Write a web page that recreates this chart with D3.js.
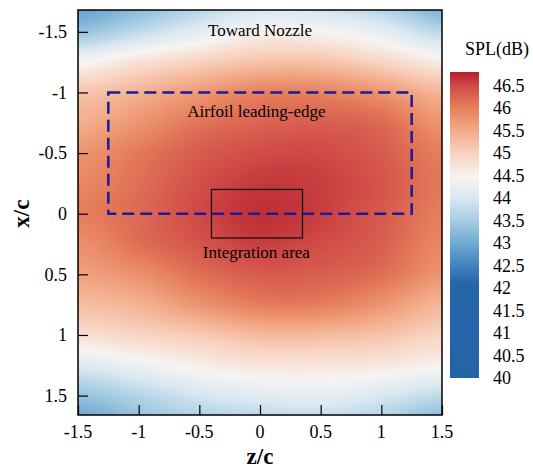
<!DOCTYPE html>
<html lang="en">
<head>
    <meta charset="UTF-8">
    <title>SPL map</title>
    <script src="https://d3js.org/d3.v7.min.js"></script>
    <style>
        body { margin: 0; background: white; }
        svg text { font-family: "Liberation Serif", "DejaVu Serif", serif; fill: black; }
        .tick-label { font-size: 18px; }
        .axis-title { font-size: 23px; font-weight: bold; }
        .note { font-size: 17px; text-anchor: middle; }
    </style>
</head>
<body>
    <div id="chart"></div>
    <script>
        // grid of SPL (dB): columns are z/c, rows are x/c
        const zCols = [-1.5, -1, -0.5, 0, 0.5, 1, 1.5];
        const xRows = [-1.75, -1.5, -1.25, -1, -0.75, -0.5, -0.25, 0, 0.25, 0.5, 0.75, 1, 1.25, 1.5, 1.75];
        const spl = [
            [42.8, 43.15, 43.55, 43.85, 43.8, 43.5, 43.0],
            [43.35, 43.75, 44.15, 44.5, 44.45, 44.2, 43.7],
            [44.4, 44.75, 45.0, 45.2, 45.2, 44.95, 44.6],
            [45.15, 45.4, 45.7, 45.95, 45.95, 45.75, 45.35],
            [45.45, 45.75, 46.1, 46.25, 46.3, 46.2, 45.75],
            [45.75, 46.05, 46.33, 46.48, 46.5, 46.33, 46.0],
            [45.9, 46.15, 46.45, 46.62, 46.58, 46.4, 46.05],
            [46.0, 46.2, 46.5, 46.68, 46.58, 46.35, 46.0],
            [45.8, 46.15, 46.4, 46.58, 46.48, 46.3, 45.9],
            [45.6, 45.8, 46.15, 46.33, 46.3, 46.15, 45.75],
            [45.25, 45.4, 45.75, 46.0, 46.0, 45.75, 45.35],
            [44.8, 44.95, 45.1, 45.3, 45.3, 45.2, 44.95],
            [44.05, 44.3, 44.55, 44.7, 44.7, 44.65, 44.5],
            [43.35, 43.65, 43.95, 44.1, 44.2, 44.0, 43.75],
            [42.85, 43.25, 43.5, 43.6, 43.65, 43.55, 43.1]
        ];

        const axisTicks = [-1.5, -1, -0.5, 0, 0.5, 1, 1.5];
        const cbTicks = [40, 40.5, 41, 41.5, 42, 42.5, 43, 43.5, 44, 44.5, 45, 45.5, 46, 46.5];

        // colour map stops (dB -> colour)
        const cmapValues = [40, 42.1, 42.5, 43, 43.5, 44, 44.45, 45, 45.5, 46, 46.5, 46.8];
        const cmapColors = ["#2563a9", "#2565aa", "#4283bf", "#71aad2", "#a6cce3", "#dae8f1",
                            "#f6f4f2", "#f8d2bf", "#f3aa88", "#e67f5c", "#d04a47", "#b51f2e"];

        const W = 533, H = 471;
        const plot = { left: 78, right: 442, top: 10, bottom: 415 };

        const svg = d3.select("#chart").append("svg")
            .attr("width", W)
            .attr("height", H)
            .attr("font-family", "'Liberation Serif', 'DejaVu Serif', serif");

        const x = d3.scaleLinear().domain([-1.5, 1.5]).range([plot.left, plot.right]);
        const y = d3.scaleLinear().domain([-1.68, 1.66]).range([plot.top, plot.bottom]);

        const color = d3.scaleLinear()
            .domain(cmapValues)
            .range(cmapColors)
            .interpolate(d3.interpolateRgb)
            .clamp(true);

        // smooth lookup in the grid (Catmull-Rom)
        function cr(p0, p1, p2, p3, t) {
            return 0.5 * (2 * p1 + (-p0 + p2) * t + (2 * p0 - 5 * p1 + 4 * p2 - p3) * t * t
                + (-p0 + 3 * p1 - 3 * p2 + p3) * t * t * t);
        }
        function cell(r, c) {
            r = Math.max(0, Math.min(xRows.length - 1, r));
            c = Math.max(0, Math.min(zCols.length - 1, c));
            return spl[r][c];
        }
        function splAt(zv, xv) {
            const fc = (zv - zCols[0]) / (zCols[1] - zCols[0]);
            const fr = (xv - xRows[0]) / (xRows[1] - xRows[0]);
            const c = Math.floor(fc), r = Math.floor(fr);
            const tc = fc - c, tr = fr - r;
            const rowVals = [];
            for (let k = -1; k <= 2; k++) {
                rowVals.push(cr(cell(r + k, c - 1), cell(r + k, c), cell(r + k, c + 1), cell(r + k, c + 2), tc));
            }
            return cr(rowVals[0], rowVals[1], rowVals[2], rowVals[3], tr);
        }

        // heatmap
        const pw = plot.right - plot.left, ph = plot.bottom - plot.top;
        const canvas = document.createElement("canvas");
        canvas.width = pw;
        canvas.height = ph;
        const ctx = canvas.getContext("2d");
        const img = ctx.createImageData(pw, ph);
        for (let j = 0; j < ph; j++) {
            const xv = y.invert(plot.top + j + 0.5);
            for (let i = 0; i < pw; i++) {
                const zv = x.invert(plot.left + i + 0.5);
                const c = d3.rgb(color(splAt(zv, xv)));
                const k = (j * pw + i) * 4;
                img.data[k] = c.r;
                img.data[k + 1] = c.g;
                img.data[k + 2] = c.b;
                img.data[k + 3] = 255;
            }
        }
        ctx.putImageData(img, 0, 0);

        svg.append("image")
            .attr("x", plot.left)
            .attr("y", plot.top)
            .attr("width", pw)
            .attr("height", ph)
            .attr("preserveAspectRatio", "none")
            .attr("href", canvas.toDataURL());

        // dashed box: airfoil leading-edge region
        svg.append("rect")
            .attr("x", x(-1.25))
            .attr("y", y(-1))
            .attr("width", x(1.25) - x(-1.25))
            .attr("height", y(0) - y(-1))
            .attr("fill", "none")
            .attr("stroke", "#1d1a94")
            .attr("stroke-width", 2.5)
            .attr("stroke-dasharray", "12,6");

        // integration area
        svg.append("rect")
            .attr("x", x(-0.4))
            .attr("y", y(-0.2))
            .attr("width", x(0.35) - x(-0.4))
            .attr("height", y(0.2) - y(-0.2))
            .attr("fill", "none")
            .attr("stroke", "#111")
            .attr("stroke-width", 1.3);

        svg.append("text").attr("class", "note")
            .attr("x", x(0)).attr("y", 36).text("Toward Nozzle");
        svg.append("text").attr("class", "note")
            .attr("x", x(-0.03)).attr("y", 117).text("Airfoil leading-edge");
        svg.append("text").attr("class", "note")
            .attr("x", x(-0.03)).attr("y", 258).text("Integration area");

        // axes (ticks point inward)
        const minor = d3.range(-16, 17).map(d => d / 10);

        const gx = svg.append("g").attr("transform", `translate(0,${plot.bottom})`);
        gx.call(d3.axisBottom(x).tickValues(minor.filter(d => d >= -1.5 && d <= 1.5))
            .tickSize(-5).tickFormat(""));
        gx.call(d3.axisBottom(x).tickValues(axisTicks).tickSize(-10).tickFormat(""));
        gx.selectAll("path").remove();
        gx.selectAll("line").attr("stroke", "black").attr("stroke-width", 1.2);

        const gy = svg.append("g").attr("transform", `translate(${plot.left},0)`);
        gy.call(d3.axisLeft(y).tickValues(minor).tickSize(-5).tickFormat(""));
        gy.call(d3.axisLeft(y).tickValues(axisTicks).tickSize(-10).tickFormat(""));
        gy.selectAll("path").remove();
        gy.selectAll("line").attr("stroke", "black").attr("stroke-width", 1.2);

        svg.append("g").selectAll("text")
            .data(axisTicks)
            .join("text")
            .attr("class", "tick-label")
            .attr("x", d => x(d))
            .attr("y", plot.bottom + 23)
            .attr("text-anchor", "middle")
            .text(d => String(d));

        svg.append("g").selectAll("text")
            .data(axisTicks)
            .join("text")
            .attr("class", "tick-label")
            .attr("x", plot.left - 11)
            .attr("y", d => y(d))
            .attr("dy", "0.35em")
            .attr("text-anchor", "end")
            .text(d => String(d));

        // frame
        svg.append("rect")
            .attr("x", plot.left)
            .attr("y", plot.top)
            .attr("width", pw)
            .attr("height", ph)
            .attr("fill", "none")
            .attr("stroke", "black")
            .attr("stroke-width", 1.5);

        svg.append("text")
            .attr("class", "axis-title")
            .attr("x", x(0))
            .attr("y", 464)
            .attr("text-anchor", "middle")
            .text("z/c");

        svg.append("text")
            .attr("class", "axis-title")
            .attr("transform", `translate(29,${y(0)}) rotate(-90)`)
            .attr("text-anchor", "middle")
            .text("x/c");

        // colour bar
        const cb = { left: 450, width: 29, top: 72, bottom: 378 };
        const cy = d3.scaleLinear().domain([40, 46.8]).range([cb.bottom, cb.top]);

        const grad = svg.append("defs").append("linearGradient")
            .attr("id", "cbgrad")
            .attr("x1", "0%").attr("y1", "100%")
            .attr("x2", "0%").attr("y2", "0%");
        grad.selectAll("stop")
            .data(cmapValues)
            .join("stop")
            .attr("offset", d => ((d - 40) / 6.8 * 100) + "%")
            .attr("stop-color", d => color(d));

        svg.append("rect")
            .attr("x", cb.left)
            .attr("y", cb.top)
            .attr("width", cb.width)
            .attr("height", cb.bottom - cb.top)
            .attr("fill", "url(#cbgrad)");

        svg.append("g").selectAll("text")
            .data(cbTicks)
            .join("text")
            .attr("class", "tick-label")
            .attr("x", 493)
            .attr("y", d => cy(d))
            .attr("dy", "0.35em")
            .text(d => String(d));

        svg.append("text")
            .attr("class", "tick-label")
            .attr("x", 497)
            .attr("y", 55)
            .attr("text-anchor", "middle")
            .text("SPL(dB)");
    </script>
</body>
</html>
